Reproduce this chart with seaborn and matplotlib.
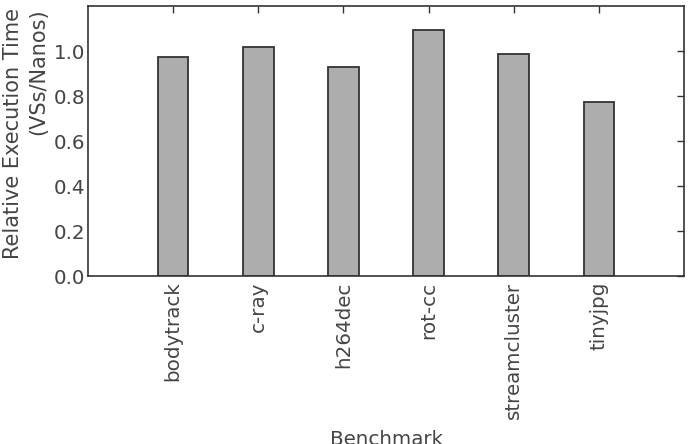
import matplotlib
matplotlib.use("Agg")
import matplotlib.pyplot as plt
import seaborn as sns
import pandas as pd
import numpy as np

benchmarks = ["bodytrack", "c-ray", "h264dec", "rot-cc", "streamcluster", "tinyjpg"]
relative_time = [0.973, 1.018, 0.929, 1.093, 0.987, 0.773]
y_ticks = [0.0, 0.2, 0.4, 0.6, 0.8, 1.0]

df = pd.DataFrame({"Benchmark": benchmarks, "Relative": relative_time})

sns.set_style("white")
plt.rcParams['font.family'] = ['DejaVu Sans']
text_col = '#444444'

fig, ax = plt.subplots(figsize=(6.93, 4.44), dpi=100)
fig.subplots_adjust(left=88/693, right=684/693, top=1-6/444, bottom=1-276/444)

sns.barplot(data=df, x="Benchmark", y="Relative", color='#adadad', saturation=1,
            edgecolor='#333333', linewidth=1.3, width=0.36, ax=ax)

ax.set_xlim(-1, 6)
ax.set_ylim(0, 1.2)
ax.set_yticks(y_ticks)
ax.set_yticklabels([f"{v:.1f}" for v in y_ticks])
ax.set_xticks(range(len(benchmarks)))
ax.set_xticklabels(benchmarks, rotation=90)

ax.tick_params(axis='both', direction='in', length=5, width=1, colors='#333333',
               labelcolor=text_col, labelsize=14.3, top=True, right=True)
ax.tick_params(axis='y', pad=2)
ax.tick_params(axis='x', pad=4)
for s in ax.spines.values():
    s.set_color('#333333')
    s.set_linewidth(1.2)

# two-line y label, lines aligned at their top ends like the original
ax.set_ylabel("Relative Execution Time\n(VSs/Nanos)", fontsize=15, color=text_col,
              linespacing=1.35, multialignment='right')
ax.yaxis.set_label_coords(-0.066, 0.526)
ax.set_xlabel("Benchmark", fontsize=14.3, color=text_col)
ax.xaxis.set_label_coords(0.5, -0.572)

fig.savefig("out.png", dpi=100)
